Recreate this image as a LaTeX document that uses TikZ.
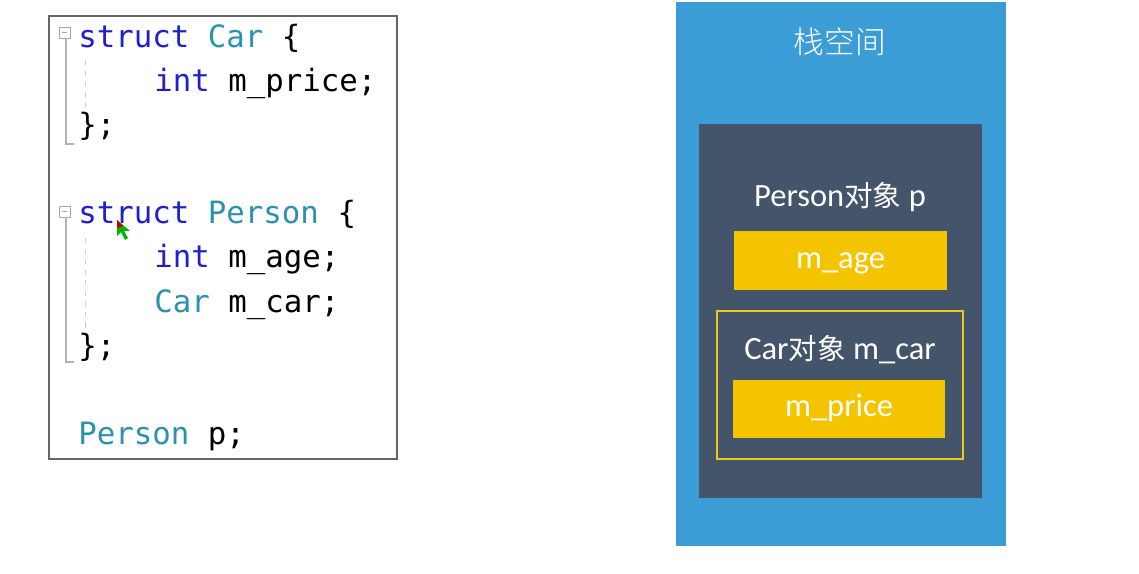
\documentclass[tikz,border=0pt]{standalone}
\usepackage{fontspec}
\usepackage{tikz}
\setmainfont{Carlito}
\newfontfamily\cjk{Noto Sans CJK SC}[Scale=0.88]
\newfontfamily\cjktitle{Noto Sans CJK SC Light}
\newfontfamily\codefont{DejaVu Sans Mono}
\definecolor{kwblue}{HTML}{1F1FD0}
\definecolor{tyteal}{HTML}{2B91AF}
\definecolor{stackblue}{HTML}{3B9CD6}
\definecolor{objdark}{HTML}{44546A}
\definecolor{fieldyellow}{HTML}{F5C400}
\definecolor{lineyellow}{HTML}{EACB1C}
\newcommand{\kw}[1]{{\color{kwblue}#1}}
\newcommand{\ty}[1]{{\color{tyteal}#1}}

\begin{document}
\begin{tikzpicture}[x=0.02cm, y=-0.02cm,
  code/.style={anchor=base west, inner sep=0pt, font=\codefont\fontsize{17.5}{20}\selectfont},
  lbl/.style={text=white, inner sep=0pt, font=\fontsize{18.5}{21}\selectfont},
  field/.style={fill=fieldyellow, text=white, minimum width=4.26cm, minimum height=1.17cm, inner sep=0pt, text height=9pt, text depth=0pt, font=\fontsize{18.5}{21}\selectfont}]
\useasboundingbox[fill=white] (0,0) rectangle (1139,574);

% code
\draw[gray!80!black, line width=0.6pt] (49,16) rectangle (397,459);
\draw[gray!70, line width=0.5pt] (59,27) rectangle (70,38);
\draw[gray!70, line width=0.5pt] (62,32.5) -- (67,32.5);
\draw[gray!70, line width=0.5pt] (59,206) rectangle (70,217);
\draw[gray!70, line width=0.5pt] (62,211.5) -- (67,211.5);
\draw[gray!60, line width=0.6pt] (66,38) -- (66,144) -- (74,144);
\draw[gray!60, line width=0.6pt] (66,217) -- (66,362) -- (74,362);
\draw[gray!40, dashed, line width=0.4pt] (85,60) -- (85,110);
\draw[gray!40, dashed, line width=0.4pt] (85,238) -- (85,330);
\node (l1) [code] at (78,48) {\kw{struct} \ty{Car} \{};
\node (l2) [code] at (154,92) {\kw{int} m\_price;};
\node (l3) [code] at (78,136) {\};};
\node (l5) [code] at (78,224) {\kw{struct} \ty{Person} \{};
\node (l6) [code] at (154,268) {\kw{int} m\_age;};
\node (l7) [code] at (154,312) {\ty{Car} m\_car;};
\node (l8) [code] at (78,356) {\};};
\node (l10) [code] at (78,444) {\ty{Person} p;};
% cursor
\fill[green!70!black] (117,220) -- (117,236) -- (121,232) -- (125,240) -- (128,238) -- (124,231) -- (130,231) -- cycle;
\fill[red!80!black] (117,220) -- (117,228) -- (123,226) -- cycle;

% stack
\node (stack) [fill=stackblue, minimum width=6.6cm, minimum height=10.88cm, inner sep=0pt] at (841,274) {};
\node (title) [lbl, font=\cjktitle\fontsize{17.5}{21}\selectfont] at (840,42) {栈空间};
\node (person) [fill=objdark, minimum width=5.66cm, minimum height=7.48cm, inner sep=0pt] at (840.5,311) {};
\node (ptitle) [lbl] at (840,197) {Person{\cjk 对象} p};
\node (age) [field] at (840.5,260.5) {m\_age};
\node (car) [draw=lineyellow, line width=0.8pt, minimum width=4.92cm, minimum height=2.96cm, inner sep=0pt] at (840,385) {};
\node (ctitle) [lbl] at (840,350) {Car{\cjk 对象} m\_car};
\node (price) [field] at (839,409) {m\_price};
\end{tikzpicture}
\end{document}
